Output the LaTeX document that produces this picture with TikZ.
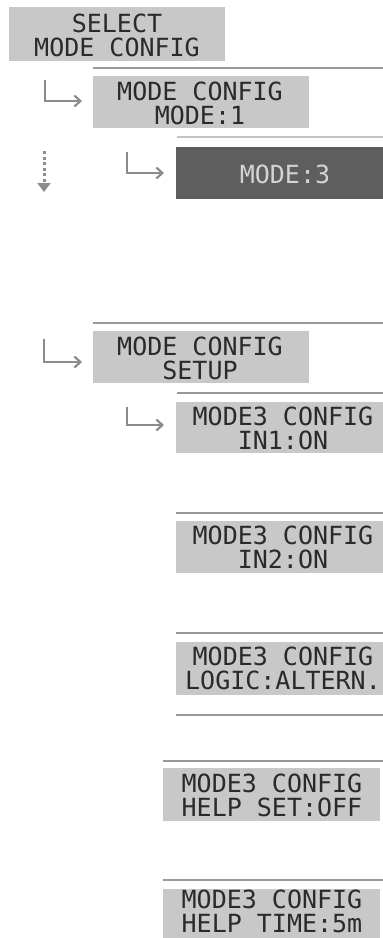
\documentclass[tikz,border=0pt]{standalone}
\usepackage{fontspec}
\newfontfamily\lcdfont{DejaVu Sans Mono}
\usetikzlibrary{arrows.meta}
\definecolor{boxgray}{HTML}{C8C8C8}
\definecolor{txtdark}{HTML}{2A2A2A}
\definecolor{darkbox}{HTML}{5E5E5E}
\definecolor{txtlight}{HTML}{D4D4D4}
\definecolor{linegray}{HTML}{9A9A9A}
\definecolor{arrgray}{HTML}{8C8C8C}
\begin{document}
\begin{tikzpicture}[x=1pt,y=-1pt,
  lcdbox/.style={fill=boxgray,draw=none},
  darklcd/.style={fill=darkbox,draw=none},
  lcdtext/.style={font=\lcdfont\fontsize{25}{24}\selectfont,text=txtdark,align=center,inner sep=0pt},
  lcdtextlight/.style={lcdtext,text=txtlight},
  sepline/.style={draw=linegray,line width=1.4pt},
  turnarrow/.style={draw=arrgray,line width=2.8pt,-{Straight Barb[length=6pt,width=11pt,line width=2.2pt]}},
  downarrow/.style={draw=arrgray,line width=3pt,dash pattern=on 3pt off 2.5pt,-{Triangle[length=9pt,width=13pt,sep=0pt]}}
]
\useasboundingbox (0,0) rectangle (383,938);

% box 1
\fill[lcdbox] (9,7) rectangle (225,61);
\node[lcdtext] (b1) at (117,35) {SELECT\\MODE CONFIG};

% box 2
\draw[sepline] (93,68) -- (383,68);
\fill[lcdbox] (93,76) rectangle (309,128);
\node[lcdtext] (b2) at (200,103) {MODE CONFIG\\MODE:1};
\coordinate (a1s) at (45,80);
\coordinate (a1c) at (45,101);
\coordinate (a1e) at (82,101);
\draw[turnarrow] (a1s) -- (a1c) -- (a1e);

% box 3 (dark)
\draw[sepline,draw=linegray!60] (177,137) -- (383,137);
\fill[darklcd] (176,147) rectangle (383,199);
\node[lcdtextlight] (b3) at (285,174) {MODE:3};
\coordinate (a2s) at (127,152);
\coordinate (a2c) at (127,173);
\coordinate (a2e) at (164,173);
\draw[turnarrow] (a2s) -- (a2c) -- (a2e);
\coordinate (d1s) at (44,151);
\coordinate (d1e) at (44,192);
\draw[downarrow] (d1s) -- (d1e);

% box 4
\draw[sepline] (93,323) -- (383,323);
\fill[lcdbox] (93,331) rectangle (309,383);
\node[lcdtext] (b4) at (200,358) {MODE CONFIG\\SETUP};
\coordinate (a3s) at (44,339);
\coordinate (a3c) at (44,362);
\coordinate (a3e) at (82,362);
\draw[turnarrow] (a3s) -- (a3c) -- (a3e);
\draw[sepline] (177,393) -- (383,393);

% box 5
\fill[lcdbox] (176,402) rectangle (383,453);
\node[lcdtext] (b5) at (283,428) {MODE3 CONFIG\\IN1:ON};
\coordinate (a4s) at (127,407);
\coordinate (a4c) at (127,425);
\coordinate (a4e) at (164,425);
\draw[turnarrow] (a4s) -- (a4c) -- (a4e);

% box 6
\draw[sepline] (176,513) -- (383,513);
\fill[lcdbox] (176,521) rectangle (383,573);
\node[lcdtext] (b6) at (283,547) {MODE3 CONFIG\\IN2:ON};

% box 7
\draw[sepline] (176,633) -- (383,633);
\fill[lcdbox] (176,642) rectangle (383,695);
\node[lcdtext] (b7) at (283,668) {MODE3 CONFIG\\LOGIC:ALTERN.};
\draw[sepline] (176,715) -- (383,715);

% box 8
\draw[sepline] (163,761) -- (383,761);
\fill[lcdbox] (163,768) rectangle (380,821);
\node[lcdtext] (b8) at (272,795) {MODE3 CONFIG\\HELP SET:OFF};

% box 9
\draw[sepline] (163,880) -- (383,880);
\fill[lcdbox] (163,889) rectangle (380,938);
\node[lcdtext] (b9) at (272,911) {MODE3 CONFIG\\HELP TIME:5m};
\end{tikzpicture}
\end{document}
